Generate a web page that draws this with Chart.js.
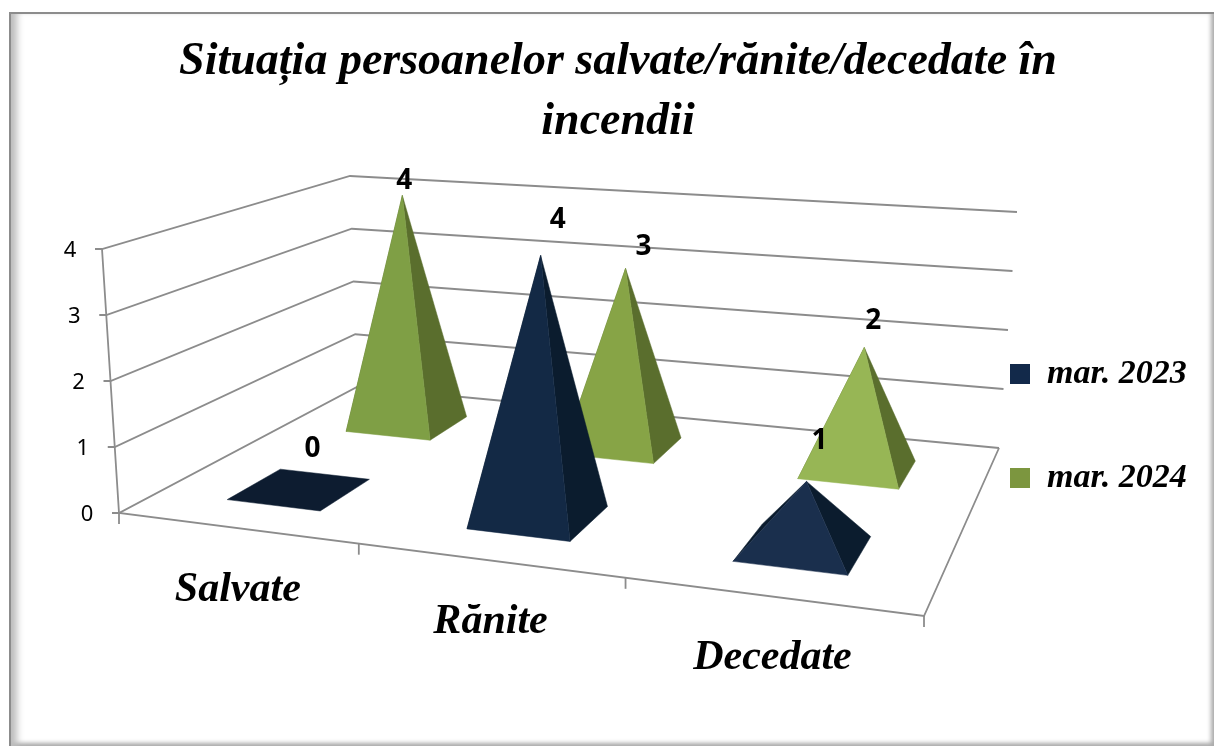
<!DOCTYPE html>
<html lang="ro">
<head>
<meta charset="utf-8">
<title>Situația persoanelor</title>
<script src="https://cdn.jsdelivr.net/npm/chart.js@4"></script>
<style>
  html, body { margin: 0; height: 100%; background: #fff; overflow: hidden; }
  #frame {
    position: absolute; left: 9px; top: 12px; right: 0; bottom: 0;
    border-left: 2px solid #8c8c8c; border-top: 2px solid #8c8c8c;
    box-shadow: inset 10px 0 7px -4px #bdbdbd, inset -6px 0 4px -3px #aaa, inset 0 -6px 4px -3px #aaa;
  }
  #chart { position: absolute; left: 0; top: 0; }
</style>
</head>
<body>
<div id="frame"></div>
<canvas id="chart" width="1214" height="746"></canvas>
<script>
// chart values
const categories = ["Salvate", "Rănite", "Decedate"];
const seriesNames = ["mar. 2023", "mar. 2024"];
const values2023 = [0, 4, 1];
const values2024 = [4, 3, 2];
const titleLines = ["Situația persoanelor salvate/rănite/decedate în", "incendii"];

// colours per series: legend, front face per category, side face
const legendColors = ["#12294a", "#7c963f"];
const frontColors = [
  ["#0d1c30", "#132945", "#1a2f4d"],
  ["#7f9f45", "#87a446", "#97b655"],
];
const sideColors = ["#0b1c2e", "#5a6e2d"];
const gridColor = "#8c8c8c";

// floor corners on the canvas: front-left, front-right, back-right, back-left
const floorCorners = [[119, 513], [924, 616], [999, 448], [357, 387]];
// how far the top of the value axis sits from each floor corner
const riseCorners = [[-17, -264], [19, -285], [18, -236], [-7, -211]];
const rowDepth = [0.245, 0.745]; // where each series stands on the floor
const rowHalfDepth = [0.105, 0.1];
// small shifts of the value labels from the apex, per series and category
const labelShift = [
  [[13, -40], [17, -35], [13, -40]],
  [[2, -14], [18, -21], [9, -26]],
];

function makeHomography(q) {
  const [p0, p1, p2, p3] = q;
  const dx1 = p1[0] - p2[0], dx2 = p3[0] - p2[0], dx3 = p0[0] - p1[0] + p2[0] - p3[0];
  const dy1 = p1[1] - p2[1], dy2 = p3[1] - p2[1], dy3 = p0[1] - p1[1] + p2[1] - p3[1];
  const det = dx1 * dy2 - dx2 * dy1;
  const g = (dx3 * dy2 - dx2 * dy3) / det;
  const h = (dx1 * dy3 - dx3 * dy1) / det;
  const a = p1[0] - p0[0] + g * p1[0], b = p3[0] - p0[0] + h * p3[0];
  const d = p1[1] - p0[1] + g * p1[1], e = p3[1] - p0[1] + h * p3[1];
  return (u, v) => {
    const w = g * u + h * v + 1;
    return [(a * u + b * v + p0[0]) / w, (d * u + e * v + p0[1]) / w];
  };
}
const floorAt = makeHomography(floorCorners);

function riseAt(u, v, k) {
  const front = riseCorners[0][k] + (riseCorners[1][k] - riseCorners[0][k]) * u;
  const back = riseCorners[3][k] + (riseCorners[2][k] - riseCorners[3][k]) * u;
  return front + (back - front) * v;
}

// u along the categories, v into the depth, t is the share of the value axis
function project(u, v, t) {
  const f = floorAt(u, v);
  return [f[0] + riseAt(u, v, 0) * t, f[1] + riseAt(u, v, 1) * t];
}

function strokePath(ctx, pts) {
  ctx.beginPath();
  pts.forEach((p, i) => (i ? ctx.lineTo(p[0], p[1]) : ctx.moveTo(p[0], p[1])));
  ctx.stroke();
}

function fillFace(ctx, pts, color) {
  ctx.fillStyle = color;
  ctx.strokeStyle = color;
  ctx.lineWidth = 0.5;
  ctx.beginPath();
  pts.forEach((p, i) => (i ? ctx.lineTo(p[0], p[1]) : ctx.moveTo(p[0], p[1])));
  ctx.closePath();
  ctx.fill();
  ctx.stroke();
}

const pyramid3d = {
  id: "pyramid3d",
  beforeDraw(chart) {
    // legend sits beside the floor, not in the middle of the canvas
    chart.legend.left = 940;
    chart.legend.top = 287;
  },
  // the bars are not painted flat, their scale positions go through the box
  beforeDatasetsDraw(chart) {
    const ctx = chart.ctx;
    const xs = chart.scales.x, ys = chart.scales.y;
    const share = (py) => (ys.bottom - py) / (ys.bottom - ys.top);
    const uOf = (px) => (px - xs.left) / xs.width;

    ctx.save();
    ctx.strokeStyle = gridColor;
    ctx.lineWidth = 1.8;

    // walls and value ticks
    ys.ticks.forEach((tick) => {
      const t = share(ys.getPixelForValue(tick.value));
      const front = project(0, 0, t);
      strokePath(ctx, [[front[0] - 7, front[1]], front, project(0, 1, t), project(1, 1, t)]);
      ctx.fillStyle = "#000";
      ctx.font = "22px 'Noto Sans'";
      ctx.textAlign = "center";
      ctx.textBaseline = "middle";
      ctx.fillText(tick.label, front[0] - 32, front[1] + 2);
    });
    strokePath(ctx, [project(0, 0, 1), project(0, 0, 0), project(1, 0, 0), project(1, 1, 0)]);

    // category ticks and names
    for (let i = 0; i <= categories.length; i++) {
      const p = project(i / categories.length, 0, 0);
      strokePath(ctx, [p, [p[0], p[1] + 11]]);
    }
    ctx.fillStyle = "#000";
    ctx.font = "italic bold 42px 'Liberation Serif'";
    ctx.textAlign = "center";
    ctx.textBaseline = "middle";
    categories.forEach((name, i) => {
      const p = project(uOf(xs.getPixelForValue(i)), 0, 0);
      ctx.fillText(name, p[0] + 2, p[1] + 62);
    });

    // back row first so the front row covers it
    const labels = [];
    for (let s = chart.data.datasets.length - 1; s >= 0; s--) {
      const meta = chart.getDatasetMeta(s);
      meta.data.forEach((bar, i) => {
        const u = uOf(bar.x), hu = bar.width / xs.width / 2;
        const v = rowDepth[s], hv = rowHalfDepth[s];
        const fl = project(u - hu, v - hv, 0), fr = project(u + hu, v - hv, 0);
        const br = project(u + hu, v + hv, 0), bl = project(u - hu, v + hv, 0);
        const apex = project(u, v, share(bar.y));
        const front = frontColors[s][i];
        if (chart.data.datasets[s].data[i] === 0) {
          fillFace(ctx, [fl, fr, br, bl], front);
        } else {
          fillFace(ctx, [fl, bl, apex], sideColors[s]);
          fillFace(ctx, [fr, br, apex], sideColors[s]);
          fillFace(ctx, [fl, fr, apex], front);
        }
        labels.push([chart.data.datasets[s].data[i], apex[0] + labelShift[s][i][0], apex[1] + labelShift[s][i][1]]);
      });
    }

    // value labels on top of everything
    ctx.fillStyle = "#000";
    ctx.font = "bold 28px 'Noto Sans'";
    labels.forEach((l) => ctx.fillText(l[0], l[1], l[2]));
    ctx.restore();
    return false;
  },
};

new Chart(document.getElementById("chart"), {
  type: "bar",
  data: {
    labels: categories,
    datasets: [
      { label: seriesNames[0], data: values2023, backgroundColor: legendColors[0] },
      { label: seriesNames[1], data: values2024, backgroundColor: legendColors[1] },
    ],
  },
  plugins: [pyramid3d],
  options: {
    responsive: false,
    animation: false,
    datasets: { bar: { grouped: false, barPercentage: 0.4, categoryPercentage: 1 } },
    layout: { padding: { left: 22, top: 32 } },
    scales: {
      x: { display: false },
      y: { min: 0, max: 4, display: false, ticks: { stepSize: 1 } },
    },
    plugins: {
      tooltip: { enabled: false },
      title: {
        display: true,
        text: titleLines,
        color: "#000",
        font: { family: "'Liberation Serif'", size: 46, style: "italic", weight: "bold", lineHeight: 1.3 },
        padding: { top: 0, bottom: 20 },
      },
      legend: {
        position: "right",
        align: "start",
        labels: {
          boxWidth: 20,
          boxHeight: 20,
          padding: 70,
          color: "#000",
          font: { family: "'Liberation Serif'", size: 34, style: "italic", weight: "bold" },
        },
      },
    },
  },
});
</script>
</body>
</html>
